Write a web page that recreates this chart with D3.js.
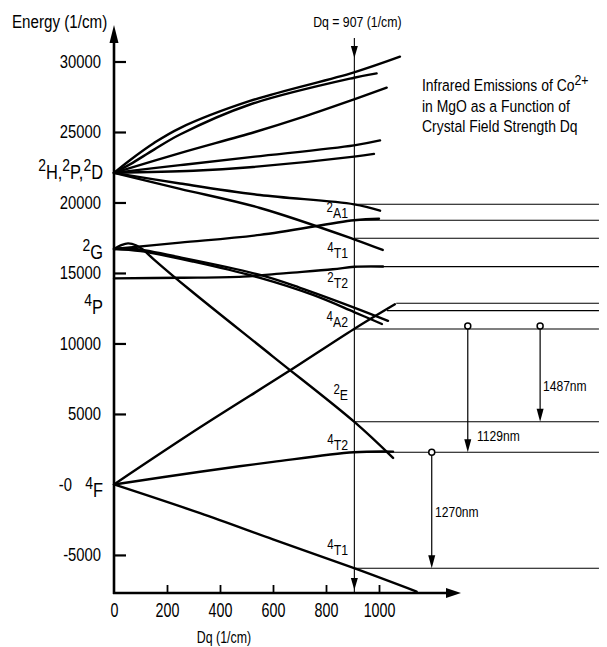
<!DOCTYPE html>
<html><head><meta charset="utf-8">
<script src="https://cdn.jsdelivr.net/npm/d3@7"></script>
<style>body{margin:0;background:#fff}</style>
</head><body>
<script>
// ---------- data ----------
const xTicks = [0, 200, 400, 600, 800, 1000];
const yTicks = [30000, 25000, 20000, 15000, 10000, 5000, -5000];
const dqMarker = 907;

// energy level curves [Dq, E]
const curveH1 = [[0,22100],[60,23000],[151,24220],[249,25280],[513,27200],[906,29230],[1079,30340]];
const curveH2 = [[0,22100],[60,22700],[151,23750],[249,24820],[513,26950],[906,28850],[991,29160]];
const curveH3 = [[0,22100],[249,23500],[532,25000],[702,26000],[906,27320],[1029,28140]];
const curveH4 = [[0,22100],[249,22650],[532,23250],[906,24050],[1004,24400]];
const curveH5 = [[0,22100],[300,22250],[513,22500],[906,23250],[981,23450]];
const curveH6 = [[0,22100],[249,21350],[551,20530],[906,19870],[1004,19420]];
const curveH7 = [[0,22100],[249,20970],[551,19610],[906,17390],[1014,16630]];
const curve2E = [[0,16700],[25,16950],[53,17100],[85,16950],[110,16650],[150,15970],[287,13790],[600,9070],[906,4450],[1053,1880]];
const curve2A1 = [[0,16700],[249,17150],[551,17700],[906,18740],[1000,18850]];
const curve2T2a = [[0,16700],[60,16750],[250,16100],[551,14860],[702,13950],[906,12550],[1034,11610]];
const curve2T2b = [[0,16700],[100,16550],[300,15800],[551,14650],[751,13440],[906,12230],[1011,11380]];
const curve4P = [[0,14620],[250,14660],[487,14740],[650,14990],[826,15260],[907,15440],[1015,15460]];
const curve4A2 = [[0,0],[325,4050],[653,7950],[906,11030],[1060,12780]];
const curve4T2 = [[0,0],[325,900],[600,1600],[906,2280],[1053,2330]];
const curve4T1 = [[0,0],[325,-2040],[600,-3900],[906,-5940],[1142,-7600]];
const curves = [curveH1,curveH2,curveH3,curveH4,curveH5,curveH6,curveH7,curve2E,curve2A1,curve2T2a,curve2T2b,curve4P,curve4A2,curve4T2,curve4T1];

// horizontal levels at Dq = 907: energy and start Dq
const levelE = [19870, 18740, 17460, 15450, 12850, 12330, 11030, 4450, 2280, -5940];
const levelStart = [907, 907, 907, 907, 1065, 1030, 907, 907, 907, 907];
const levelEnd = 1830;

// emissions
const emLabels = ["1270nm", "1129nm", "1487nm"];
const emFrom = [2280, 11030, 11030];
const emTo = [-5940, 2280, 4450];
const emDq = [1199, 1335, 1608];

// term labels
const leftTerms = [
  {E:22100, parts:[["2","H,"],["2","P,"],["2","D"]]},
  {E:16400, parts:[["2","G"]]},
  {E:12500, parts:[["4","P"]]},
  {E:-500, parts:[["4","F"]]}
];
const rightTerms = [
  {E:18900, sup:"2", base:"A1"},
  {E:16050, sup:"4", base:"T1"},
  {E:13940, sup:"2", base:"T2"},
  {E:11160, sup:"4", base:"A2"},
  {E:5990, sup:"2", base:"E"},
  {E:2430, sup:"4", base:"T2"},
  {E:-5030, sup:"4", base:"T1"}
];
const titleLines = ["Infrared Emissions of Co", "in MgO as a Function of", "Crystal Field Strength Dq"];

// ---------- drawing ----------
const F = "'Liberation Sans',Arial,sans-serif";
const SX = 0.82; // horizontal condensing to mimic the narrow face
const W = 607, H = 647;
const svg = d3.select("body").append("svg").attr("width", W).attr("height", H)
  .style("font-family", F);

const x = d3.scaleLinear().domain([0, 1000]).range([114, 379]);
const y = d3.scaleLinear().domain([-7700, 30000]).range([593, 61.5]);

function T(parent, tx, ty, size, anchor, sx) {
  return parent.append("text")
    .attr("transform", `translate(${tx},${ty}) scale(${sx || SX},1)`)
    .attr("font-size", size).attr("text-anchor", anchor || "start");
}

// curves
const line = d3.line().x(d => x(d[0])).y(d => y(d[1])).curve(d3.curveCatmullRom.alpha(0.5));
svg.append("g").selectAll("path").data(curves).join("path")
  .attr("d", line).attr("fill", "none").attr("stroke", "#000")
  .attr("stroke-width", 2.4).attr("stroke-linecap", "round");

// horizontal levels
svg.append("g").selectAll("line").data(levelE).join("line")
  .attr("x1", (d, i) => x(levelStart[i])).attr("x2", x(levelEnd))
  .attr("y1", d => y(d)).attr("y2", d => y(d))
  .attr("stroke", "#000").attr("stroke-width", 1.1);

// Dq marker line
const mx = x(dqMarker);
svg.append("line").attr("x1", mx).attr("x2", mx).attr("y1", 38).attr("y2", y(-7700))
  .attr("stroke", "#000").attr("stroke-width", 1.1);
function tri(cx, tipY, w, h, dir) {
  return `M${cx},${tipY} L${cx - w / 2},${tipY - dir * h} L${cx + w / 2},${tipY - dir * h} Z`;
}
svg.append("path").attr("d", tri(mx, 58, 7, 12, 1));
svg.append("path").attr("d", tri(mx, 590, 7, 12, 1));
T(svg, mx + 3, 27, 15, "middle").text("Dq = 907 (1/cm)");

// emission arrows
emLabels.forEach((lab, i) => {
  const ex = x(emDq[i]);
  const y0 = y(emFrom[i]), y1 = y(emTo[i]);
  const cy = emFrom[i] > 10000 ? y0 - 3 : y0;
  svg.append("line").attr("x1", ex).attr("x2", ex).attr("y1", cy + 3).attr("y2", y1 - 10)
    .attr("stroke", "#000").attr("stroke-width", 1.2);
  svg.append("path").attr("d", tri(ex, y1, 7, 13, 1));
  svg.append("circle").attr("cx", ex).attr("cy", cy).attr("r", 3)
    .attr("fill", "#fff").attr("stroke", "#000").attr("stroke-width", 1.5);
});
const emLabelPos = [[435, 517], [477, 441], [543, 391]];
emLabels.forEach((lab, i) => T(svg, emLabelPos[i][0], emLabelPos[i][1], 15.5, "start", 0.78).text(lab));

// axes
const gy = svg.append("g").attr("transform", `translate(${x(0)},0)`)
  .call(d3.axisLeft(y).tickValues(yTicks).tickSizeInner(-12).tickSizeOuter(0).tickPadding(13).tickFormat(d => String(d)));
gy.select(".domain").remove();
gy.selectAll(".tick line").attr("stroke-width", 2.2);
gy.selectAll(".tick text").attr("font-size", 18.5).attr("font-family", F)
  .attr("x", -13 / 0.8).attr("transform", "scale(0.8,1)");
svg.append("line").attr("x1", x(0)).attr("x2", x(0)).attr("y1", y(-7700) + 1).attr("y2", 38)
  .attr("stroke", "#000").attr("stroke-width", 2.6);
svg.append("path").attr("d", tri(x(0), 25, 9, 18, -1));

const gx = svg.append("g").attr("transform", `translate(0,${y(-7700)})`)
  .call(d3.axisBottom(x).tickValues(xTicks).tickSizeInner(-8).tickSizeOuter(0).tickPadding(9).tickFormat(d => String(d)));
gx.select(".domain").remove();
gx.selectAll(".tick line").attr("stroke-width", 1.8);
gx.selectAll(".tick").filter(d => d === 0).select("line").remove();
gx.selectAll(".tick text").attr("font-size", 21).attr("font-family", F)
  .attr("transform", "scale(0.68,1)");
svg.append("line").attr("x1", x(0) - 1).attr("x2", 450).attr("y1", y(-7700)).attr("y2", y(-7700))
  .attr("stroke", "#000").attr("stroke-width", 2.6);
svg.append("path").attr("d", `M461,${y(-7700)} L446,${y(-7700) - 5} L446,${y(-7700) + 5} Z`);

// axis titles
T(svg, 12, 28, 18.5).text("Energy (1/cm)");
T(svg, 224, 643, 16.5, "middle", 0.75).text("Dq  (1/cm)");
T(svg, 72, y(0) + 7, 18.5, "end", 0.8).text("-0");

// left term labels
leftTerms.forEach(t => {
  const tx = T(svg, 103, y(t.E) + 6, 20, "end");
  t.parts.forEach(p => {
    tx.append("tspan").attr("font-size", 17).attr("dy", -8).text(p[0]);
    tx.append("tspan").attr("dy", 8).text(p[1]);
  });
});

// right term labels
rightTerms.forEach(t => {
  const tx = T(svg, 348, y(t.E), 15, "end");
  tx.append("tspan").attr("font-size", 14).attr("dy", -6).text(t.sup);
  tx.append("tspan").attr("dy", 6).text(t.base);
});

// title block
const t1 = T(svg, 422, 91, 17);
t1.append("tspan").text(titleLines[0]);
t1.append("tspan").attr("dy", -6).attr("font-size", 15).text("2+");
T(svg, 422, 112, 17).text(titleLines[1]);
T(svg, 422, 132, 17).text(titleLines[2]);
</script>
</body></html>
